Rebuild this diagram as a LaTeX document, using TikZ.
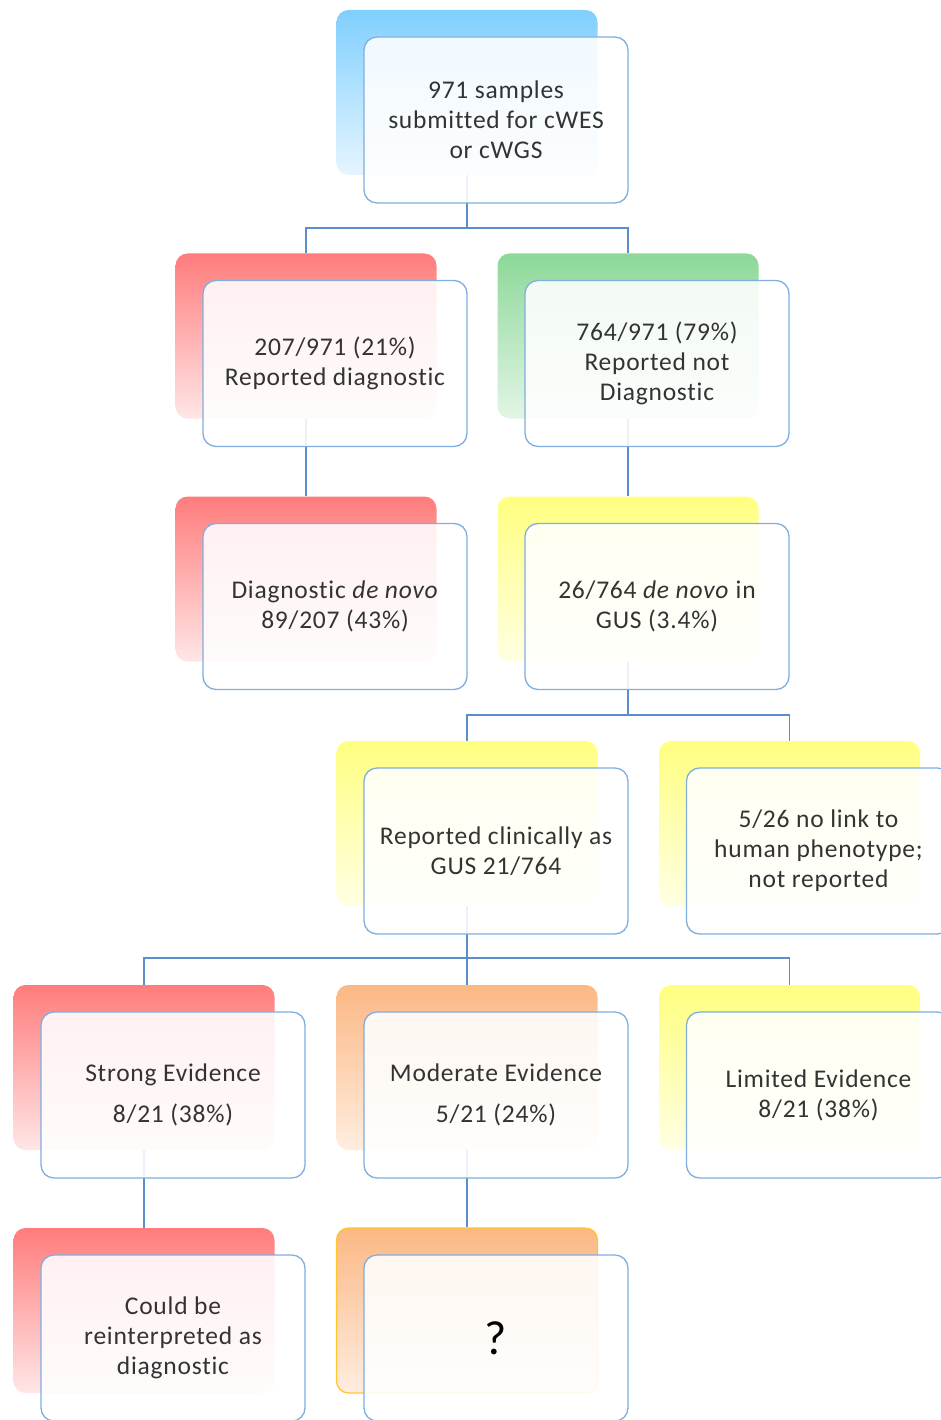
\documentclass[tikz,border=0pt]{standalone}
\usepackage{fontspec}
\setmainfont{Carlito}[Ligatures=CommonOff, LetterSpace=3]
\definecolor{frontline}{HTML}{7FAEE0}
\definecolor{conn}{HTML}{5B8FCB}
\definecolor{textgray}{HTML}{333333}
\definecolor{blueT}{HTML}{80CFFF}\definecolor{blueB}{HTML}{E6F5FF}
\definecolor{redT}{HTML}{FF7C7C}\definecolor{redB}{HTML}{FFE6E6}
\definecolor{greenT}{HTML}{8DD899}\definecolor{greenB}{HTML}{E2F5E5}
\definecolor{yelT}{HTML}{FFFF80}\definecolor{yelB}{HTML}{FFFFE3}
\definecolor{orT}{HTML}{FBB884}\definecolor{orB}{HTML}{FFEDE0}
\definecolor{orLine}{HTML}{FFC72C}
\tikzset{
  backcard/.style={minimum width=261pt, minimum height=165pt, rounded corners=12pt, inner sep=0pt, draw=none},
  frontbox/.style={draw=frontline, line width=1.3pt, fill=white, fill opacity=0.88, text opacity=1,
    rounded corners=13pt, minimum width=264pt, minimum height=166pt, inner sep=2pt, align=center,
    text=textgray, font=\fontsize{25.5}{30}\selectfont},
  conline/.style={draw=conn, line width=1.7pt},
  blue/.style={top color=blueT, bottom color=blueB},
  red/.style={top color=redT, bottom color=redB},
  green/.style={top color=greenT, bottom color=greenB},
  yel/.style={top color=yelT, bottom color=yelB},
  ora/.style={top color=orT, bottom color=orB}
}
\begin{document}
\begin{tikzpicture}[x=1pt,y=-1pt]
\useasboundingbox (0,0) rectangle (941,1420);
\clip (0,0) rectangle (941,1420);
% back cards
\node[backcard, blue]  (A) at (467,92.5) {};
\node[backcard, red]   (B) at (306,336) {};
\node[backcard, green] (C) at (628,336) {};
\node[backcard, red]   (D) at (306,579) {};
\node[backcard, yel]   (E) at (628,579) {};
\node[backcard, yel]   (F) at (467,823.5) {};
\node[backcard, yel]   (G) at (789.5,823.5) {};
\node[backcard, red]   (H) at (144,1067.5) {};
\node[backcard, ora]   (I) at (467,1067.5) {};
\node[backcard, yel]   (J) at (789.5,1067.5) {};
\node[backcard, red]   (K) at (144,1310.5) {};
\node[backcard, ora, draw=orLine, line width=1.3pt] (L) at (467,1310.5) {};
% connectors
\draw[conline] (A.south) -- ++(0,53) coordinate (a1) -| (B.north);
\draw[conline] (a1) -| (C.north);
\draw[conline] (B.south) -- (D.north);
\draw[conline] (C.south) -- (E.north);
\draw[conline] (E.south) -- ++(0,53) coordinate (e1) -| (F.north);
\draw[conline] (e1) -| (G.north);
\draw[conline] (F.south) -- ++(0,52) coordinate (f1) -| (H.north);
\draw[conline] (f1) -- (I.north);
\draw[conline] (f1) -| (J.north);
\draw[conline] (H.south) -- (K.north);
\draw[conline] (I.south) -- (L.north);
% front boxes
\node[frontbox] (fA) at (496,120) {971 samples\\submitted for cWES\\or cWGS};
\node[frontbox] (fB) at (335,363.5) {207/971 (21\%)\\Reported diagnostic};
\node[frontbox] (fC) at (657,363.5) {764/971 (79\%)\\Reported not\\Diagnostic};
\node[frontbox] (fD) at (335,606.5) {Diagnostic \textit{de novo}\\89/207 (43\%)};
\node[frontbox] (fE) at (657,606.5) {26/764 \textit{de novo} in\\GUS (3.4\%)};
\node[frontbox] (fF) at (496,851) {Reported clinically as\\GUS 21/764};
\node[frontbox] (fG) at (818.5,851) {5/26 no link to\\human phenotype;\\not reported};
\node[frontbox, font=\fontsize{25.5}{41}\selectfont] (fH) at (173,1095) {Strong Evidence\\8/21 (38\%)};
\node[frontbox, font=\fontsize{25.5}{41}\selectfont] (fI) at (496,1095) {Moderate Evidence\\5/21 (24\%)};
\node[frontbox] (fJ) at (818.5,1095) {Limited Evidence\\8/21 (38\%)};
\node[frontbox] (fK) at (173,1338) {Could be\\reinterpreted as\\diagnostic};
\node[frontbox, text=black, font=\fontsize{48}{50}\selectfont] (fL) at (496,1338) {?};
\end{tikzpicture}
\end{document}
